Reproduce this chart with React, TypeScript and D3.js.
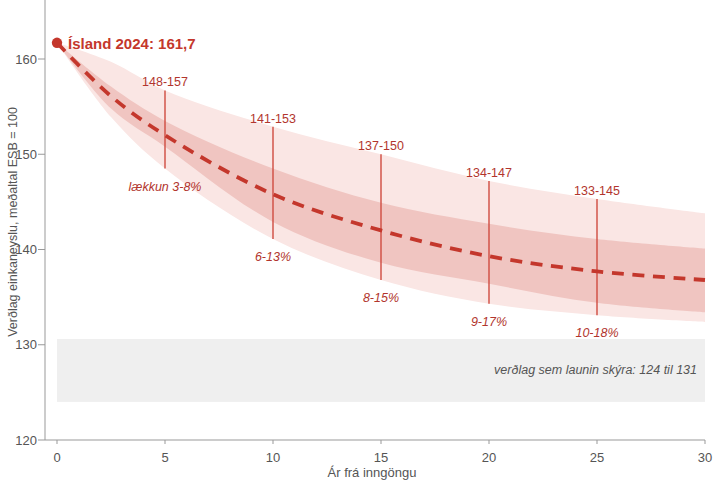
import React from "react";
import * as d3 from "d3";

const years = [0, 2.5, 5, 10, 15, 20, 25, 30];
const center = [161.7, 156.1, 152.0, 145.8, 142.0, 139.3, 137.7, 136.8];
const innerTop = [161.7, 157.1, 153.5, 148.5, 144.9, 142.7, 141.1, 140.1];
const innerBottom = [161.7, 154.8, 150.8, 142.9, 138.6, 136.4, 134.4, 133.4];
const outerTop = [161.7, 159.7, 156.7, 152.9, 150.0, 147.2, 145.3, 143.8];
const outerBottom = [161.7, 153.9, 148.5, 141.1, 136.8, 134.3, 133.1, 132.4];

const markerYears = [5, 10, 15, 20, 25];
const rangeLabels = ["148-157", "141-153", "137-150", "134-147", "133-145"];
const pctLabels = ["lækkun 3-8%", "6-13%", "8-15%", "9-17%", "10-18%"];

const wageBand = [124, 130.6];
const wageLabel = "verðlag sem launin skýra: 124 til 131";
const startValue = 161.7;
const titleLabel = "Ísland 2024: 161,7";

const xTicks = [0, 5, 10, 15, 20, 25, 30];
const yTicks = [120, 130, 140, 150, 160];
const yLabel = "Verðlag einkaneyslu, meðaltal ESB = 100";
const xLabel = "Ár frá inngöngu";

const W = 713;
const H = 481;
const FONT = "'Liberation Sans', Arial, Helvetica, sans-serif";

export default function App() {
  const x = d3.scaleLinear().domain([0, 30]).range([57, 705]);
  const y = d3.scaleLinear().domain([120, 160]).range([440, 59]);
  const axisX = 45;
  const axisY = y(120);

  const idx = years.map((_, i) => i);
  const curve = d3.curveCatmullRom.alpha(0.5);
  const area = (top: number[], bot: number[]) =>
    d3
      .area<number>()
      .x((i) => x(years[i]))
      .y0((i) => y(bot[i]))
      .y1((i) => y(top[i]))
      .curve(curve)(idx) || "";
  const line =
    d3
      .line<number>()
      .x((i) => x(years[i]))
      .y((i) => y(center[i]))
      .curve(curve)(idx) || "";

  const red = "#c4372c";
  const textRed = "#b2352d";
  const gray = "#555";
  const axisGray = "#999";

  return (
    <svg
      width={W}
      height={H}
      style={{ position: "absolute", left: 0, top: 0, background: "#fff" }}
      fontFamily={FONT}
    >
      {/* wage band */}
      <rect
        x={x(0)}
        width={x(30) - x(0)}
        y={y(wageBand[1])}
        height={y(wageBand[0]) - y(wageBand[1])}
        fill="#efefef"
      />
      <text
        x={697}
        y={374}
        textAnchor="end"
        fontSize={12.5}
        fontStyle="italic"
        fill={gray}
      >
        {wageLabel}
      </text>

      {/* bands */}
      <path d={area(outerTop, outerBottom)} fill="#fae6e4" />
      <path d={area(innerTop, innerBottom)} fill="#f0c5c1" />

      {/* marker lines */}
      {markerYears.map((yr, k) => {
        const i = years.indexOf(yr);
        const top = y(outerTop[i]);
        const bot = y(outerBottom[i]);
        return (
          <g key={yr}>
            <line
              x1={x(yr)}
              x2={x(yr)}
              y1={top}
              y2={bot}
              stroke="#cf4b40"
              strokeWidth={1.4}
            />
            <text
              x={x(yr)}
              y={top - 4}
              textAnchor="middle"
              fontSize={12.5}
              fill={textRed}
            >
              {rangeLabels[k]}
            </text>
            <text
              x={x(yr)}
              y={bot + 22}
              textAnchor="middle"
              fontSize={12.5}
              fontStyle="italic"
              fill={textRed}
            >
              {pctLabels[k]}
            </text>
          </g>
        );
      })}

      {/* central line */}
      <path
        d={line}
        fill="none"
        stroke={red}
        strokeWidth={3.8}
        strokeDasharray="12 8.5"
      />
      <circle cx={x(0)} cy={y(startValue)} r={5.2} fill={red} />
      <text x={68} y={48.5} fontSize={15} fontWeight="bold" fill={red}>
        {titleLabel}
      </text>

      {/* y axis */}
      <line x1={axisX} x2={axisX} y1={0} y2={axisY} stroke={axisGray} strokeWidth={1} />
      {yTicks.map((t) => (
        <g key={t}>
          <line x1={axisX - 7} x2={axisX} y1={y(t)} y2={y(t)} stroke={axisGray} />
          <text
            x={37}
            y={y(t)}
            dy="0.35em"
            textAnchor="end"
            fontSize={13}
            fill={gray}
          >
            {t}
          </text>
        </g>
      ))}
      <text
        transform={`translate(12.5,222) rotate(-90)`}
        textAnchor="middle"
        dy="0.35em"
        fontSize={12.5}
        fill={gray}
      >
        {yLabel}
      </text>

      {/* x axis */}
      <line x1={axisX} x2={x(30)} y1={axisY} y2={axisY} stroke={axisGray} />
      {xTicks.map((t) => (
        <g key={t}>
          <line x1={x(t)} x2={x(t)} y1={axisY} y2={axisY + 4} stroke={axisGray} />
          <text x={x(t)} y={461.5} textAnchor="middle" fontSize={13} fill={gray}>
            {t}
          </text>
        </g>
      ))}
      <text x={372} y={476.5} textAnchor="middle" fontSize={13} fill={gray}>
        {xLabel}
      </text>
    </svg>
  );
}
